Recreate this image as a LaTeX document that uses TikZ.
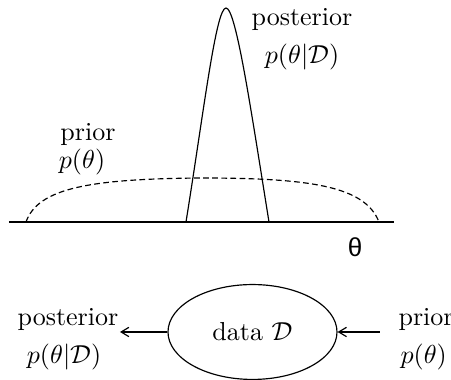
\documentclass[tikz,border=0pt]{standalone}
\usepackage{fontspec}
\newfontfamily\thetafont{Liberation Sans}
\usetikzlibrary{arrows.meta,shapes.geometric}
\begin{document}
\begin{tikzpicture}[x=0.3846pt,y=-0.3846pt,line width=0.45pt,
  lbl/.style={inner sep=0pt},
  tip/.style={-{Straight Barb[length=3pt,width=3.6pt,line width=0.45pt]}}]
\useasboundingbox (0,0) rectangle (451,380);
\clip (0,0) rectangle (451,380);
% axis
\coordinate (axL) at (9,222);
\coordinate (axR) at (394,222);
\draw (axL) -- (axR);
% prior (dashed)
\draw[dash pattern=on 2.2pt off 1.3pt] (26,222) .. controls (38,188) and (90,179) .. (200,178)
  .. controls (310,178) and (365,186) .. (379,222);
% posterior
\draw (186,222) .. controls (204,110) and (216,8) .. (226,8)
  .. controls (236,8) and (251,110) .. (269,222);
% labels top
\node[lbl] (postT) at (302,19) {posterior};
\node[lbl] (postTf) at (302,57) {$p(\theta|\mathcal{D})$};
\node[lbl] (priT) at (88,134) {prior};
\node[lbl] (priTf) at (82,162) {$p(\theta)$};
\node[lbl] (theta) at (355,247) {\thetafont θ};
% bottom
\node[draw,ellipse,minimum width=65pt,minimum height=36.5pt,inner sep=0pt] (data) at (252.5,332) {data $\mathcal{D}$};
\node[lbl] (postB) at (68,319) {posterior};
\node[lbl] (postBf) at (64,357) {$p(\theta|\mathcal{D})$};
\node[lbl,anchor=west] (priB) at (398,319) {prior};
\node[lbl,anchor=west] (priBf) at (400,357) {$p(\theta)$};
\coordinate (postEnd) at (120,332);
\coordinate (priStart) at (380,332);
\draw[tip] (data.west) -- (postEnd);
\draw[tip] (priStart) -- (data.east);
\end{tikzpicture}
\end{document}
